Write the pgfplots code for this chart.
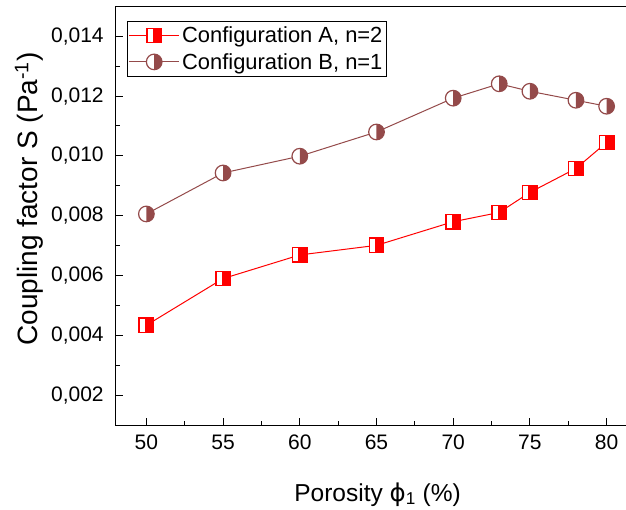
\documentclass[border=0pt]{standalone}
\usepackage{pgfplots}
\pgfplotsset{compat=1.18}
\usepackage{fontspec}
\setmainfont{Liberation Sans}
\newfontfamily\dejavu{DejaVu Sans}
\definecolor{brownB}{HTML}{944A4A}
\definecolor{redA}{HTML}{FF0000}

\pgfdeclareplotmark{halfsq}{%
  \pgfpathrectangle{\pgfqpoint{-\pgfplotmarksize}{-\pgfplotmarksize}}{\pgfqpoint{2\pgfplotmarksize}{2\pgfplotmarksize}}%
  \pgfsetfillcolor{white}\pgfusepath{fill}%
  \pgfpathrectangle{\pgfqpoint{-0.2\pgfplotmarksize}{-\pgfplotmarksize}}{\pgfqpoint{1.2\pgfplotmarksize}{2\pgfplotmarksize}}%
  \pgfsetfillcolor{redA}\pgfusepath{fill}%
  \pgfpathrectangle{\pgfqpoint{-\pgfplotmarksize}{-\pgfplotmarksize}}{\pgfqpoint{2\pgfplotmarksize}{2\pgfplotmarksize}}%
  \pgfusepath{stroke}%
}
\pgfdeclareplotmark{halfcirc}{%
  \pgfpathcircle{\pgfpointorigin}{\pgfplotmarksize}%
  \pgfsetfillcolor{white}\pgfusepath{fill}%
  \pgfpathmoveto{\pgfqpoint{0pt}{\pgfplotmarksize}}%
  \pgfpatharc{90}{-90}{\pgfplotmarksize}%
  \pgfpathclose
  \pgfsetfillcolor{brownB}\pgfusepath{fill}%
  \pgfpathcircle{\pgfpointorigin}{\pgfplotmarksize}%
  \pgfusepath{stroke}%
}

\pgfplotstableread{
x y
50 0.00434
55 0.00590
60 0.00669
65 0.00701
70 0.00780
73 0.00811
75 0.00878
78 0.00958
80 0.01045
}\dataA
\pgfplotstableread{
x y
50 0.00806
55 0.00943
60 0.00999
65 0.01080
70 0.01193
73 0.01241
75 0.01216
78 0.01186
80 0.01166
}\dataB

\begin{document}
\begin{tikzpicture}
\begin{axis}[
  scale only axis, width=521.6bp, height=418.9bp,
  xmin=48, xmax=82, ymin=0.001, ymax=0.015,
  axis line style={line width=1.2bp},
  xtick={50,55,60,65,70,75,80}, minor x tick num=1,
  ytick={0.002,0.004,0.006,0.008,0.010,0.012,0.014}, minor y tick num=1,
  tick align=inside, tick pos=left,
  major tick length=7.5bp, minor tick length=4bp,
  every tick/.style={line width=1bp, black},
  scaled y ticks=false,
  /pgf/number format/assume math mode=true,
  y tick label style={/pgf/number format/fixed, /pgf/number format/fixed zerofill, /pgf/number format/precision=3, /pgf/number format/use comma, xshift=-8.5bp},
  x tick label style={yshift=-6bp},
  tick label style={font=\fontsize{21bp}{25bp}\selectfont},
  xlabel style={font=\fontsize{24.5bp}{29bp}\selectfont},
  ylabel style={font=\fontsize{28bp}{33bp}\selectfont},
  xlabel={Porosity {\dejavu ϕ}\textsubscript{1} (\%)},
  ylabel={Coupling factor S (Pa\textsuperscript{-1})},
  xlabel style={at={(axis description cs:0.502,0)}, anchor=base, yshift=-76bp},
  ylabel style={at={(axis description cs:-0.166,0.54)}, anchor=center},
  legend style={at={(0.0222,0.965)}, anchor=north west, draw=black, line width=0.8bp,
    font=\fontsize{21.9bp}{26bp}\selectfont, inner xsep=1bp, inner ysep=1bp,
    nodes={inner xsep=2.5bp, inner ysep=4.5bp}},
  legend cell align=left,
  legend image code/.code={\draw[mark repeat=2,mark phase=2,#1] plot coordinates {(0bp,0bp)(25bp,0bp)(50bp,0bp)};},
]
\addplot[redA, line width=1bp, mark=halfsq, mark size=7.2bp, mark options={draw=redA, line width=1.4bp}] table[x=x,y=y] {\dataA};
\addlegendentry{Configuration A, n=2}
\addplot[brownB, line width=1bp, mark=halfcirc, mark size=7.8bp, mark options={draw=brownB, line width=1.2bp}] table[x=x,y=y] {\dataB};
\addlegendentry{Configuration B, n=1}
\end{axis}
\pgfresetboundingbox
\path[use as bounding box] (-115.7bp,-84.3bp) rectangle (510.3bp,425.2bp);
\end{tikzpicture}
\end{document}
